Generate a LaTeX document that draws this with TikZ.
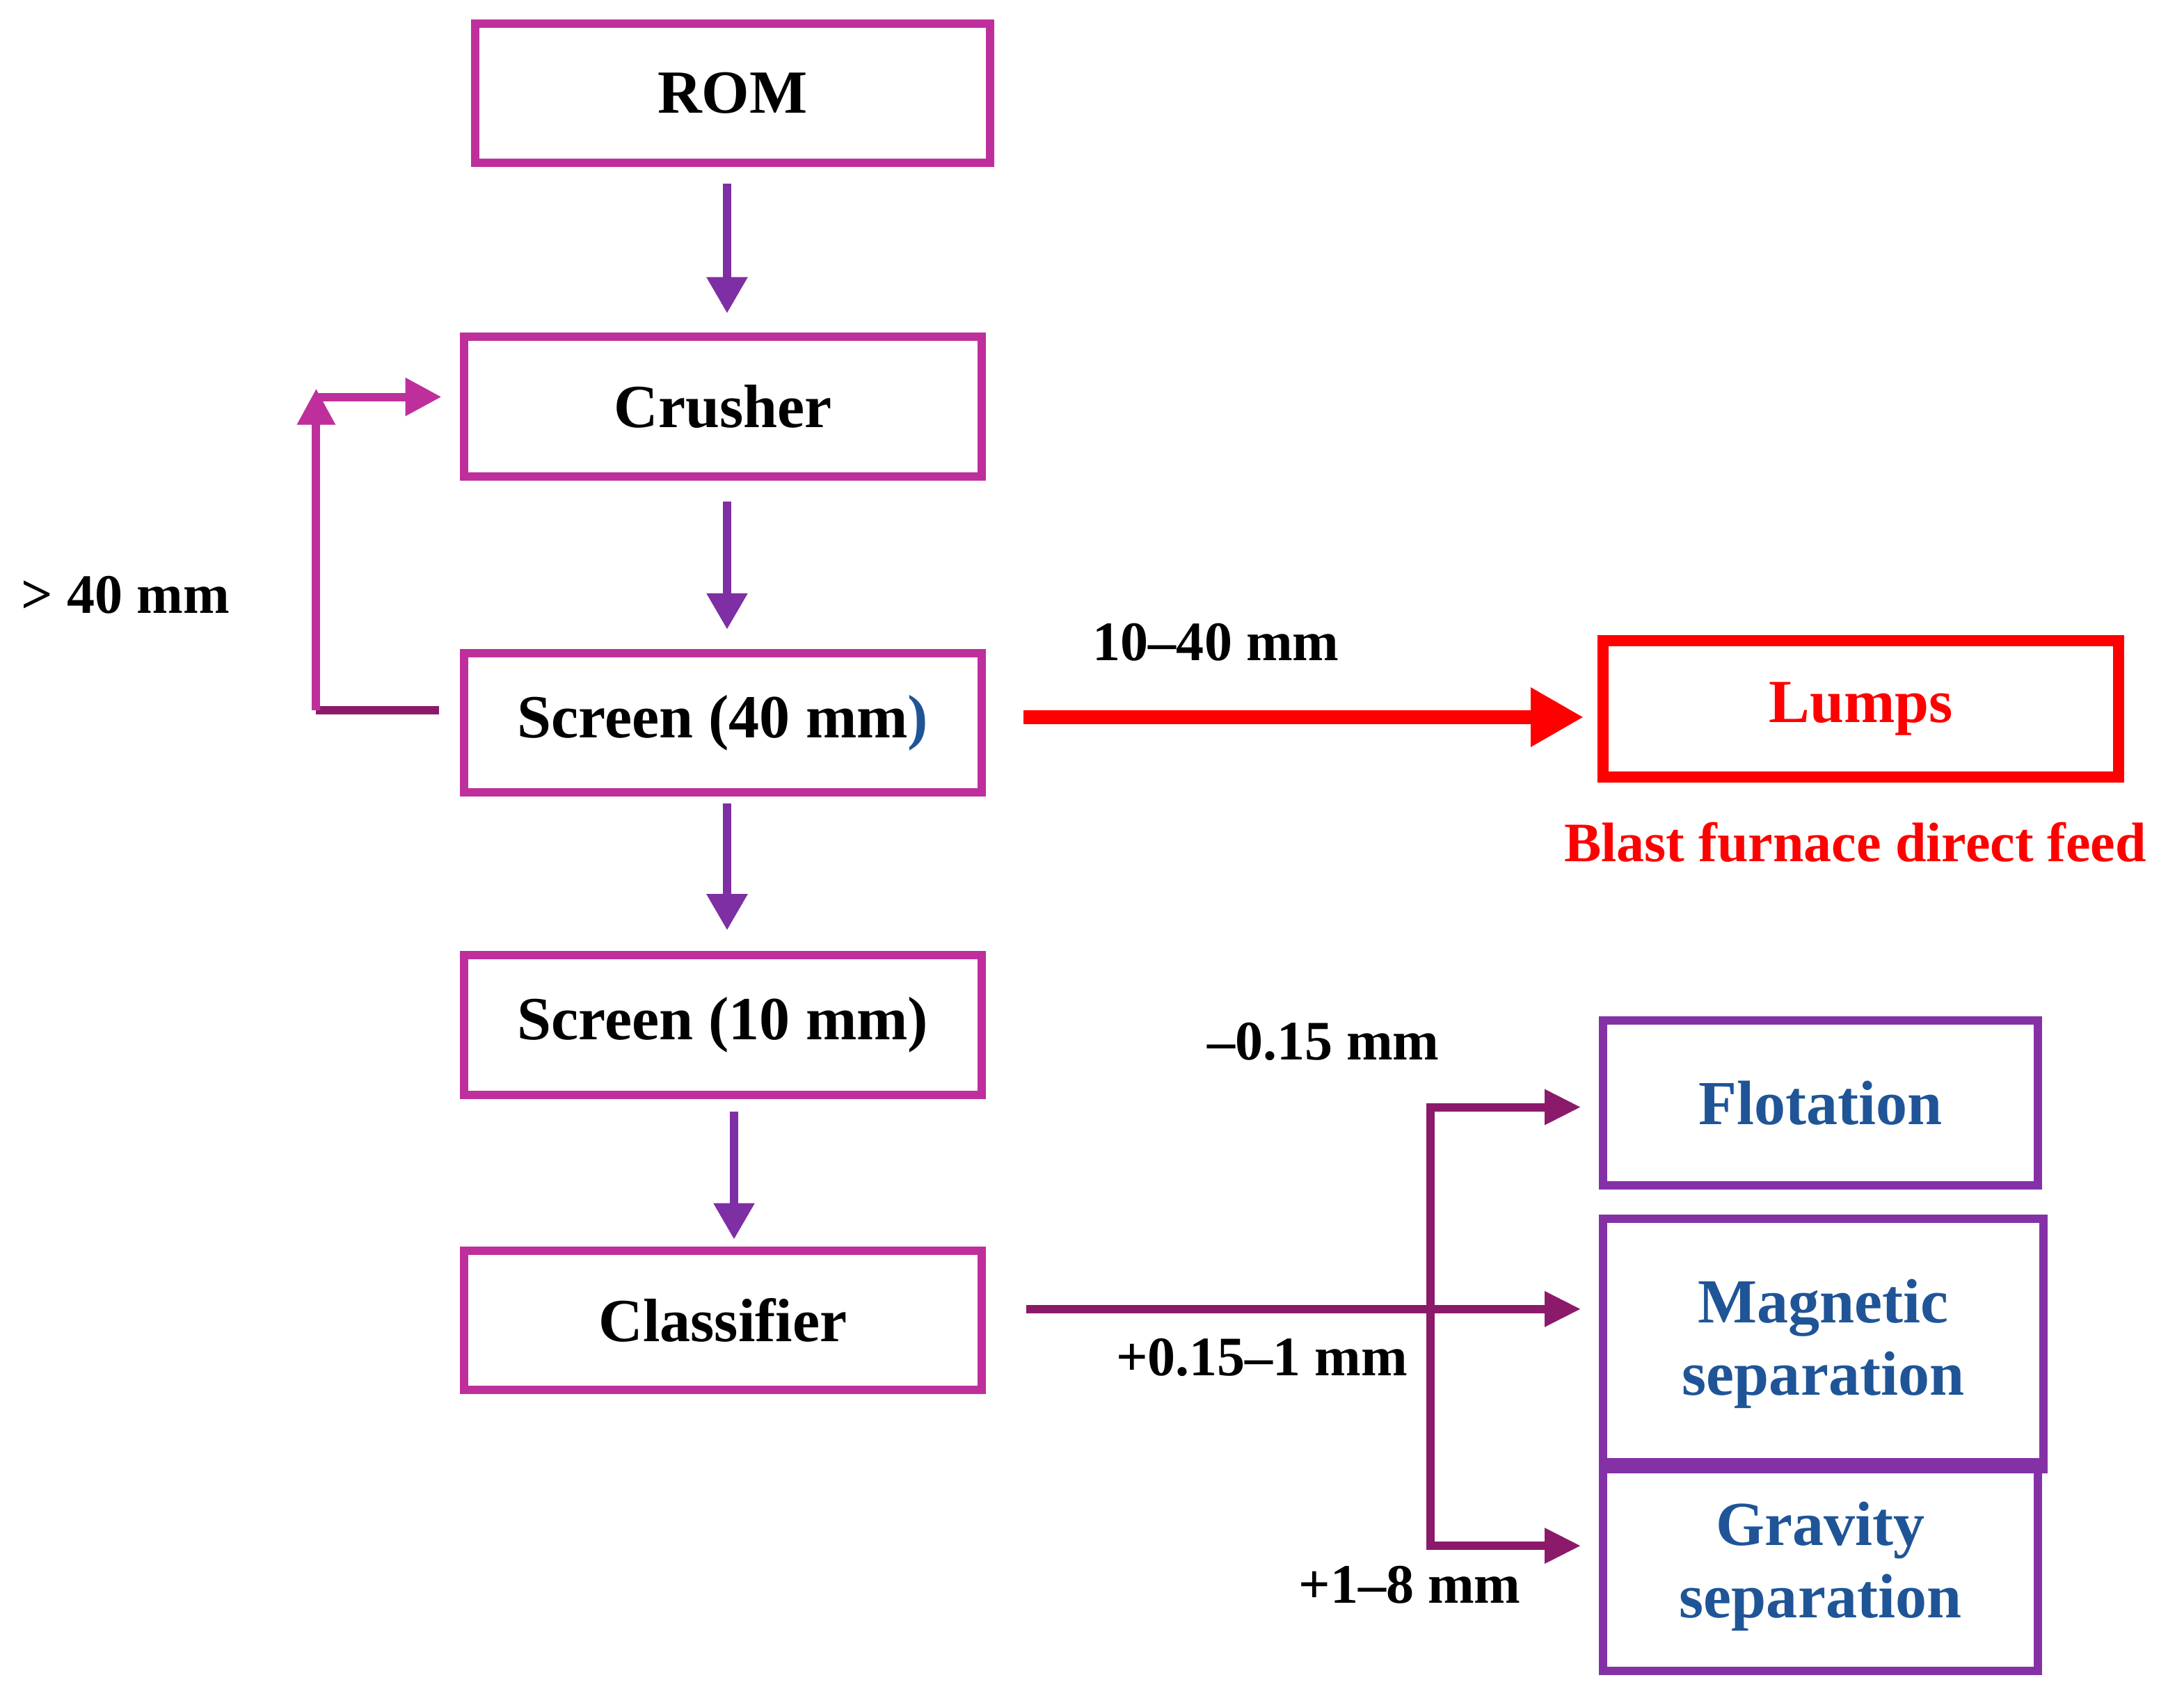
\documentclass[tikz,border=0pt]{standalone}
\usepackage{fontspec}
\setmainfont{Liberation Serif}
\usetikzlibrary{arrows.meta}
\definecolor{boxc}{HTML}{BE2F9C}
\definecolor{arrc}{HTML}{7E2FA3}
\definecolor{darkc}{HTML}{8B1A6B}
\definecolor{purc}{HTML}{8431A6}
\definecolor{bluec}{HTML}{1F5597}
\definecolor{redc}{HTML}{FF0000}
\begin{document}
\begin{tikzpicture}[x=0.5pt,y=-0.5pt,
 box/.style={draw=boxc,line width=3pt,minimum width=186pt,minimum height=50pt,font=\bfseries\fontsize{22}{25}\selectfont,text=black},
 pbox/.style={draw=purc,line width=3pt,font=\bfseries\fontsize{22.5}{26}\selectfont,text=bluec,align=center,inner sep=0pt},
 lab/.style={font=\bfseries\fontsize{20}{23}\selectfont},
 varr/.style={draw=arrc,line width=3pt,-{Triangle[width=14pt,length=13pt]}},
 darr/.style={draw=darkc,line width=3pt,-{Triangle[width=12pt,length=13pt]}}]
\useasboundingbox (0,0) rectangle (1568,1224);
\node[box,minimum width=185pt] (rom) at (526,67) {ROM};
\node[box] (cru) at (519,292) {Crusher};
\node[box] (s40) at (519,519) {Screen (40 mm\textcolor{bluec}{)}};
\node[box] (s10) at (519,736) {Screen (10 mm)};
\node[box] (cla) at (519,948) {Classifier};
\node[draw=redc,line width=4pt,minimum width=185pt,minimum height=49pt,font=\fontsize{22}{25}\selectfont\bfseries,text=redc] (lum) at (1336,509) {Lumps};
\node[pbox,minimum width=156pt,minimum height=59pt] (flo) at (1307,792) {Flotation};
\node[pbox,minimum width=158pt,minimum height=90pt] (mag) at (1309,965) {Magnetic\\separation};
\node[pbox,minimum width=156pt,minimum height=75pt] (gra) at (1307,1125) {Gravity\\separation};
\node[lab,text=redc] (bf) at (1332,605) {Blast furnace direct feed};
\node[lab] (l40) at (90,427) {> 40 mm};
\node[lab] (l1040) at (873,461) {10--40 mm};
\node[lab] (l015) at (950,748) {--0.15 mm};
\node[lab] (l0151) at (906,975) {+0.15--1 mm};
\node[lab] (l18) at (1012,1138) {+1--8 mm};
% vertical arrows
\coordinate (a1) at (522,132); \coordinate (a1e) at (522,225);
\coordinate (a2) at (522,360); \coordinate (a2e) at (522,452);
\coordinate (a3) at (522,577); \coordinate (a3e) at (522,668);
\coordinate (a4) at (527,798); \coordinate (a4e) at (527,890);
\draw[varr] (a1) -- (a1e);
\draw[varr] (a2) -- (a2e);
\draw[varr] (a3) -- (a3e);
\draw[varr] (a4) -- (a4e);
% feedback
\coordinate (f0) at (315,510); \coordinate (f1) at (227,510);
\coordinate (f2) at (227,279); \coordinate (f2b) at (227,285); \coordinate (f3) at (317,285);
\draw[darkc,line width=3pt] (f0) -- (f1);
\draw[boxc,line width=3pt,-{Triangle[width=13pt,length=13pt]}] (f1) -- (f2);
\draw[boxc,line width=3pt,-{Triangle[width=13pt,length=13pt]}] (f2b) -- (f3);
% red arrow
\coordinate (r0) at (735,515); \coordinate (r1) at (1137,515);
\draw[redc,line width=5pt,-{Triangle[width=20pt,length=19pt]}] (r0) -- (r1);
% classifier distribution
\coordinate (c0) at (737,940); \coordinate (c1) at (1135,940);
\coordinate (b0) at (1027,795); \coordinate (b1) at (1027,1110);
\coordinate (bt) at (1135,795); \coordinate (bb) at (1135,1110);
\draw[darr] (c0) -- (c1);
\draw[darr] (b1) -- (b0) -- (bt);
\draw[darr] (b0) -- (b1) -- (bb);
\end{tikzpicture}
\end{document}
